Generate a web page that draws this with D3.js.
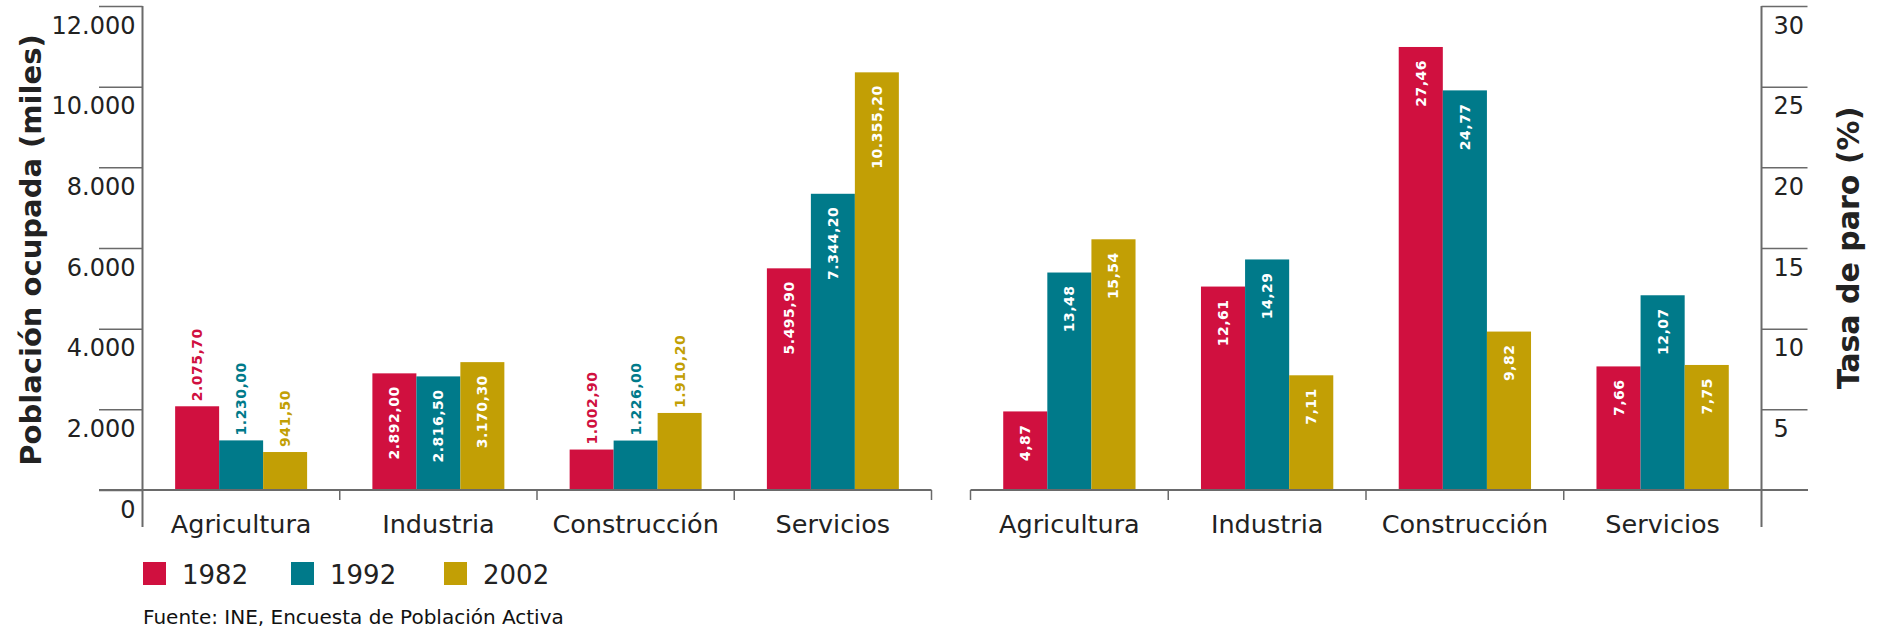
<!DOCTYPE html>
<html>
<head>
<meta charset="utf-8">
<script src="https://cdn.jsdelivr.net/npm/d3@7"></script>
<style>
  html, body { margin: 0; padding: 0; background: #fff; }
  svg { display: block; font-family: "DejaVu Sans", Verdana, sans-serif; }
</style>
</head>
<body>
<svg id="chart" width="1878" height="632"></svg>
<script>
// ---- data ----
const categories = ["Agricultura", "Industria", "Construcción", "Servicios"];
const years = ["1982", "1992", "2002"];
const ocupada1982 = [2075.70, 2892.00, 1002.90, 5495.90];
const ocupada1992 = [1230.00, 2816.50, 1226.00, 7344.20];
const ocupada2002 = [941.50, 3170.30, 1910.20, 10355.20];
const paro1982 = [4.87, 12.61, 27.46, 7.66];
const paro1992 = [13.48, 14.29, 24.77, 12.07];
const paro2002 = [15.54, 7.11, 9.82, 7.75];
const leftTicks = [0, 2000, 4000, 6000, 8000, 10000, 12000];
const rightTicks = [5, 10, 15, 20, 25, 30];
const leftTitle = "Población ocupada (miles)";
const rightTitle = "Tasa de paro (%)";
const source = "Fuente: INE, Encuesta de Población Activa";

// ---- styles ----
const colors = { "1982": "#D0103F", "1992": "#007A8A", "2002": "#C29F05" };
const axisColor = "#6a6a6a";
const textColor = "#222";

const locale = d3.formatLocale({ decimal: ",", thousands: ".", grouping: [3], currency: ["", "€"] });
const fmtTick = locale.format(",d");
const fmt2 = locale.format(",.2f");

const svg = d3.select("#chart");

const yL = d3.scaleLinear().domain([0, 12000]).range([490, 6]);
const yR = d3.scaleLinear().domain([0, 30]).range([490, 6]);
const xL = d3.scaleBand().domain(categories).range([142.5, 931.5]);
const xR = d3.scaleBand().domain(categories).range([970.5, 1761.5]);

const ocupada = { "1982": ocupada1982, "1992": ocupada1992, "2002": ocupada2002 };
const paro = { "1982": paro1982, "1992": paro1992, "2002": paro2002 };

function drawBars(x, y, series, fmt, outsideBelow) {
  const x1 = d3.scaleBand().domain(years).range([0, x.bandwidth()]).paddingInner(0).paddingOuter(0.742);
  const rows = [];
  categories.forEach((c, i) => years.forEach(yr => rows.push({ c, yr, v: series[yr][i] })));
  const g = svg.append("g");
  g.selectAll("rect").data(rows).join("rect")
    .attr("x", d => x(d.c) + x1(d.yr))
    .attr("y", d => y(d.v))
    .attr("width", x1.bandwidth())
    .attr("height", d => y(0) - y(d.v))
    .attr("fill", d => colors[d.yr]);
  g.selectAll("text").data(rows).join("text")
    .attr("transform", d => `translate(${x(d.c) + x1(d.yr) + x1.bandwidth() / 2},${y(d.v)}) rotate(-90)`)
    .attr("x", d => d.v < outsideBelow ? 5 : -13)
    .attr("text-anchor", d => d.v < outsideBelow ? "start" : "end")
    .attr("dominant-baseline", "central")
    .attr("font-size", 14)
    .attr("font-weight", "bold")
    .attr("letter-spacing", 0.5)
    .attr("fill", d => d.v < outsideBelow ? colors[d.yr] : "#fff")
    .text(d => fmt(d.v));
}

drawBars(xL, yL, ocupada, fmt2, 2500);
drawBars(xR, yR, paro, fmt2, 0);

// ---- left y axis ----
const axL = svg.append("g").attr("transform", "translate(142.5,0)")
  .call(d3.axisLeft(yL).tickValues(leftTicks).tickSize(43.5).tickSizeOuter(0).tickFormat(fmtTick));
axL.select(".domain").remove();
axL.selectAll(".tick line").attr("stroke", axisColor).attr("stroke-width", 1.5);
axL.selectAll(".tick text").attr("x", -7).attr("y", 27).attr("dy", null)
  .attr("font-size", 24).attr("fill", textColor).attr("font-family", "DejaVu Sans");
svg.append("line").attr("x1", 142.5).attr("x2", 142.5).attr("y1", yL(12000)).attr("y2", 527)
  .attr("stroke", axisColor).attr("stroke-width", 2);

// ---- right y axis ----
const axR = svg.append("g").attr("transform", "translate(1761.5,0)")
  .call(d3.axisRight(yR).tickValues(rightTicks).tickSize(46).tickSizeOuter(0).tickFormat(d3.format("d")));
axR.select(".domain").remove();
axR.selectAll(".tick line").attr("stroke", axisColor).attr("stroke-width", 1.5);
axR.selectAll(".tick text").attr("x", 12).attr("y", 27).attr("dy", null)
  .attr("font-size", 24).attr("fill", textColor).attr("font-family", "DejaVu Sans");
svg.append("line").attr("x1", 1761.5).attr("x2", 1761.5).attr("y1", yR(30)).attr("y2", 527)
  .attr("stroke", axisColor).attr("stroke-width", 2);

// ---- bottom axes ----
function bottomAxis(x, startX, endX, boundaries) {
  svg.append("line").attr("x1", startX).attr("x2", endX).attr("y1", 490).attr("y2", 490)
    .attr("stroke", axisColor).attr("stroke-width", 2);
  svg.append("g").selectAll("line").data(boundaries).join("line")
    .attr("x1", d => d).attr("x2", d => d).attr("y1", 490).attr("y2", 500)
    .attr("stroke", axisColor).attr("stroke-width", 1.5);
  const ax = svg.append("g").attr("transform", "translate(0,490)")
    .call(d3.axisBottom(x).tickSize(0).tickPadding(0));
  ax.select(".domain").remove();
  ax.selectAll(".tick text").attr("y", 43).attr("dy", null)
    .attr("font-size", 25.5).attr("fill", textColor).attr("font-family", "DejaVu Sans");
}
bottomAxis(xL, 99, xL.range()[1], categories.map(c => xL(c) + xL.bandwidth()));
bottomAxis(xR, xR.range()[0], 1808, categories.map(c => xR(c)));

// ---- titles ----
svg.append("text").attr("transform", "translate(31,250) rotate(-90)")
  .attr("text-anchor", "middle").attr("dominant-baseline", "central")
  .attr("font-size", 29).attr("font-weight", "bold").attr("fill", textColor).text(leftTitle);
svg.append("text").attr("transform", "translate(1848,248) rotate(-90)")
  .attr("text-anchor", "middle").attr("dominant-baseline", "central")
  .attr("font-size", 30).attr("font-weight", "bold").attr("fill", textColor).text(rightTitle);

// ---- legend ----
const legendX = [143, 291, 444];
const lg = svg.append("g").selectAll("g").data(years).join("g")
  .attr("transform", (d, i) => `translate(${legendX[i]},562)`);
lg.append("rect").attr("width", 23).attr("height", 23).attr("fill", d => colors[d]);
lg.append("text").attr("x", 39).attr("y", 22).attr("font-size", 26).attr("fill", textColor).text(d => d);

// ---- source ----
svg.append("text").attr("x", 143).attr("y", 624).attr("font-size", 20).attr("fill", "#111").text(source);
</script>
</body>
</html>
